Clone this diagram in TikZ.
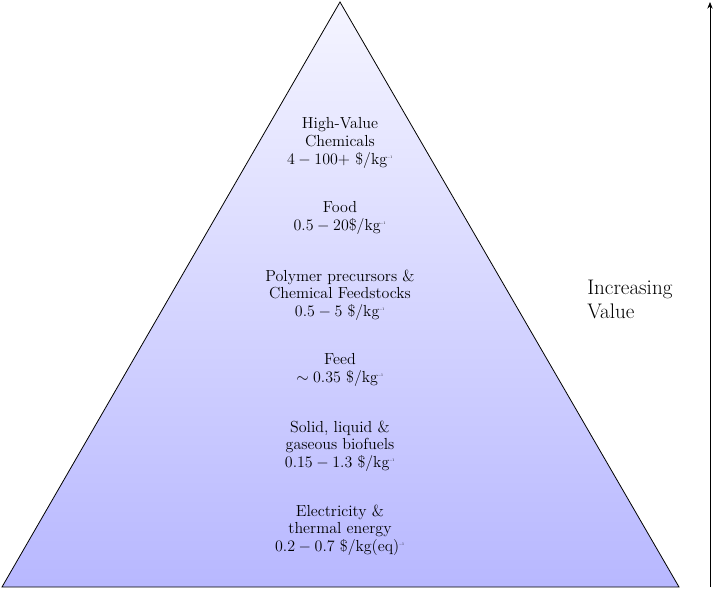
\documentclass[tikz,border=0pt]{standalone}
\usetikzlibrary{arrows.meta}
\newcommand{\tinysup}{\textsuperscript{\scalebox{0.35}{$-1$}}}
\begin{document}
\begin{tikzpicture}[x=0.75pt,y=-0.75pt,
  lvl/.style={align=center,font=\fontsize{12pt}{13.2pt}\selectfont,inner sep=0pt}]
\useasboundingbox (0,0) rectangle (714,589);
\coordinate (apex) at (340,2);
\coordinate (bl) at (2,587);
\coordinate (br) at (679,587);
\shade[top color=blue!4,bottom color=blue!28] (apex) -- (bl) -- (br) -- cycle;
\draw[line width=0.6pt] (apex) -- (bl) -- (br) -- cycle;
\node[lvl] (l6) at (340,143) {High-Value\\Chemicals\\$4-100+$ \$/kg\tinysup};
\node[lvl] (l5) at (340,218) {Food\\$0.5-20$\$/kg\tinysup};
\node[lvl] (l4) at (340,295) {Polymer precursors \&\\Chemical Feedstocks\\$0.5-5$ \$/kg\tinysup};
\node[lvl] (l3) at (340,370) {Feed\\$\sim0.35$ \$/kg\tinysup};
\node[lvl] (l2) at (340,446) {Solid, liquid \&\\gaseous biofuels\\$0.15-1.3$ \$/kg\tinysup};
\node[lvl] (l1) at (340,530) {Electricity \&\\thermal energy\\$0.2-0.7$ \$/kg(eq)\tinysup};
\node[align=left,font=\fontsize{15.8pt}{18pt}\selectfont,anchor=west,inner sep=0pt] (inc) at (587,299) {Increasing\\Value};
\coordinate (ab) at (710,587);
\coordinate (at) at (710,2);
\draw[-{Stealth[length=5pt,width=4pt]},line width=0.6pt] (ab) -- (at);
\end{tikzpicture}
\end{document}
